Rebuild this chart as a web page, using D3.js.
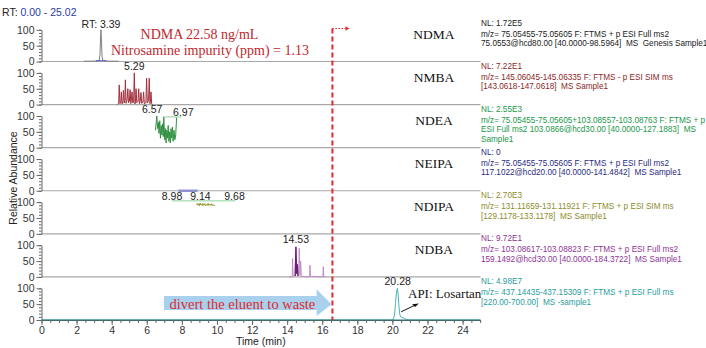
<!DOCTYPE html>
<html>
<head>
<meta charset="utf-8">
<script src="https://cdn.jsdelivr.net/npm/d3@7/dist/d3.min.js"></script>
<style>
  body { margin: 0; background: #fff; }
  svg { display: block; }
  text { white-space: pre; }
  .tick text { font-family: "Liberation Sans", Arial, sans-serif; }
</style>
</head>
<body>
<div id="chart"></div>
<script>
// chromatograms, one panel per nitrosamine + API
var compounds = ["NDMA", "NMBA", "NDEA", "NEIPA", "NDIPA", "NDBA", "API"];
var compoundNames = ["NDMA", "NMBA", "NDEA", "NEIPA", "NDIPA", "NDBA", ""];

var nlLines = ["NL: 1.72E5", "NL: 7.22E1", "NL: 2.55E3", "NL: 0", "NL: 2.70E3", "NL: 9.72E1", "NL: 4.98E7"];
var scanLines = [
    ["m/z= 75.05455-75.05605 F: FTMS + p ESI Full ms2", "75.0553@hcd80.00 [40.0000-98.5964]  MS  Genesis Sample1"],
    ["m/z= 145.06045-145.06335 F: FTMS - p ESI SIM ms", "[143.0618-147.0618]  MS Sample1"],
    ["m/z= 75.05455-75.05605+103.08557-103.08763 F: FTMS + p", "ESI Full ms2 103.0866@hcd30.00 [40.0000-127.1883]  MS", "Sample1"],
    ["m/z= 75.05455-75.05605 F: FTMS + p ESI Full ms2", "117.1022@hcd20.00 [40.0000-141.4842]  MS Sample1"],
    ["m/z= 131.11659-131.11921 F: FTMS + p ESI SIM ms", "[129.1178-133.1178]  MS Sample1"],
    ["m/z= 103.08617-103.08823 F: FTMS + p ESI Full ms2", "159.1492@hcd30.00 [40.0000-184.3722]  MS Sample1"],
    ["m/z= 437.14435-437.15309 F: FTMS + p ESI Full ms", "[220.00-700.00]  MS -sample1"]
];

// traces: [time (min), relative abundance (%)]
var ndmaTrace = [[2.40,1],[2.80,1],[3.10,1.5],[3.28,2],[3.33,20],[3.37,80],[3.39,100],[3.42,60],[3.45,15],[3.50,3],[3.70,1.5],[4.00,1],[4.40,1]];
var ndmaIntegration = [[3.10,2],[3.25,3],[3.40,2],[3.55,3],[3.70,2]];
var nmbaTrace = [[4.32,0],[4.40,5],[4.43,62],[4.47,3],[4.52,8],[4.55,40],[4.59,2],[4.64,10],[4.67,45],[4.71,5],[4.75,12],[4.78,78],[4.82,4],[4.88,15],[4.92,50],[4.96,6],[5.01,10],[5.05,47],[5.09,3],[5.13,20],[5.16,40],[5.20,5],[5.25,8],[5.29,100],[5.33,2],[5.36,14],[5.39,50],[5.43,6],[5.50,10],[5.54,50],[5.58,3],[5.63,12],[5.67,38],[5.71,4],[5.78,8],[5.82,40],[5.86,2],[5.95,6],[5.99,83],[6.03,5],[6.10,12],[6.14,83],[6.18,3],[6.21,10],[6.24,40],[6.28,2],[6.33,0]];
var ndeaTrace = [[6.50,55],[6.57,100],[6.62,60],[6.66,80],[6.70,45],[6.74,85],[6.78,30],[6.82,70],[6.86,40],[6.90,75],[6.94,35],[6.97,97],[7.02,25],[7.06,60],[7.10,15],[7.14,55],[7.18,30],[7.22,70],[7.26,20],[7.30,50],[7.34,15],[7.38,60],[7.42,30],[7.46,65],[7.50,20],[7.55,55],[7.60,25],[7.65,40],[7.70,95]];
var neipaTrace = [[7.80,0],[8.90,0]];
var ndipaTrace = [[8.84,92],[8.88,96],[8.92,90],[8.96,95],[9.00,88],[9.04,97],[9.08,91],[9.12,94],[9.16,89],[9.20,96],[9.25,90],[9.30,95],[9.35,88],[9.40,93],[9.45,90],[9.50,96],[9.55,89],[9.60,94],[9.65,90],[9.70,95],[9.75,88],[9.80,92],[9.85,89],[9.89,91]];
var ndbaTrace = [[14.10,0],[14.25,0],[14.29,2],[14.31,58],[14.34,2],[14.45,3],[14.50,95],[14.54,10],[14.58,40],[14.62,3],[14.66,8],[14.69,90],[14.73,5],[14.77,50],[14.81,2],[15.25,0],[15.28,3],[15.30,37],[15.33,2],[16.02,0],[16.04,3],[16.06,32],[16.09,2],[16.20,0]];
var ndbaMajor = [[14.46,3],[14.50,95],[14.54,10],[14.58,40],[14.62,3]];
var apiTrace = [[0,0],[19.95,0],[20.05,2],[20.12,15],[20.18,55],[20.24,92],[20.28,100],[20.32,85],[20.37,45],[20.42,18],[20.47,10],[20.55,8],[20.65,6],[20.75,3],[20.90,0],[25.02,0]];

// peak labels: panel, text, time where it is written, level
var peakLabels = [
    [0, "RT: 3.39", 3.39, 106],
    [1, "5.29", 5.29, 108],
    [2, "6.57", 6.31, 109],
    [2, "6.97", 8.08, 100],
    [4, "8.98", 7.44, 108],
    [4, "9.14", 9.06, 108],
    [4, "9.68", 11.00, 108],
    [5, "14.53", 14.50, 107],
    [6, "20.28", 20.30, 109]
];

var xTicks = d3.range(0, 25, 2);
var rtRange = [0.00, 25.02];
var divertTime = 16.58;

var colors = ["#7f7f7f", "#a3303c", "#2e9040", "#9090d0", "#9a9a30", "#c08cc4", "#4bb5b8"];
var textColors = ["#1a1a1a", "#8c1f28", "#22964a", "#2b2b7f", "#8c8c2c", "#8e3394", "#2a9d9d"];

var svg = d3.select("#chart").append("svg").attr("width", 706).attr("height", 348);
var sans = "'Liberation Sans', Arial, sans-serif";
var serif = "'Liberation Serif', 'Times New Roman', serif";

var x = d3.scaleLinear().domain(rtRange).range([41.5, 480.5]);
var baseline = d3.scaleLinear().domain([0, compounds.length - 1]).range([61.5, 320]);
var panelH = 31.7;

function yScale(i) {
    return d3.scaleLinear().domain([0, 100]).range([baseline(i), baseline(i) - panelH]);
}

var traces = [ndmaTrace, nmbaTrace, ndeaTrace, neipaTrace, ndipaTrace, ndbaTrace, apiTrace];

// header
svg.append("text")
    .attr("x", 2).attr("y", 16)
    .attr("font-family", sans).attr("font-size", 10.5)
    .attr("fill", "#222")
    .text("RT: ")
    .append("tspan").attr("fill", "#2b3aa8")
    .text(rtRange[0].toFixed(2) + " - " + rtRange[1].toFixed(2));

compounds.forEach(function(c, i) {
    var y = yScale(i);
    var g = svg.append("g");

    // panel baseline
    if (i < compounds.length - 1) {
        g.append("line")
            .attr("x1", x(rtRange[0])).attr("x2", x(rtRange[1]))
            .attr("y1", y(0)).attr("y2", y(0))
            .attr("stroke", "#a8a8a8").attr("stroke-width", 1.2);
    }

    // y axis, minor then major
    g.append("g")
        .attr("transform", "translate(" + x(0) + ",0)")
        .call(d3.axisLeft(y).tickValues(d3.range(0, 101, 10)).tickSize(2.5).tickSizeOuter(0).tickFormat(""))
        .call(function(a) { a.select(".domain").attr("stroke", "#666"); a.selectAll("line").attr("stroke", "#666"); });
    g.append("g")
        .attr("transform", "translate(" + x(0) + ",0)")
        .call(d3.axisLeft(y).tickValues([0, 50, 100]).tickSize(5).tickSizeOuter(0).tickPadding(2))
        .call(function(a) {
            a.select(".domain").remove();
            a.selectAll("line").attr("stroke", "#666");
            a.selectAll("text").attr("font-size", 10.5).attr("fill", "#333");
        });

    var line = d3.line()
        .x(function(d) { return x(d[0]); })
        .y(function(d) { return y(d[1]); });

    g.append("path")
        .datum(traces[i])
        .attr("fill", "none")
        .attr("stroke", colors[i])
        .attr("stroke-width", i == 3 ? 2.5 : 1)
        .attr("stroke-linejoin", "round")
        .attr("d", line);

    if (i == 0) {
        g.append("path").datum(ndmaIntegration)
            .attr("fill", "none").attr("stroke", "#4a5cc8").attr("stroke-width", 1)
            .attr("d", line);
    }
    if (i == 5) {
        g.append("path").datum(ndbaMajor)
            .attr("fill", "none").attr("stroke", "#6a2077").attr("stroke-width", 1.3)
            .attr("d", line);
    }

    // compound name
    g.append("text")
        .attr("x", 434).attr("y", baseline(i) - 23)
        .attr("text-anchor", "middle")
        .attr("font-family", serif).attr("font-size", 13.5)
        .attr("fill", "#111")
        .text(compoundNames[i]);

    // scan info on the right
    var top = baseline(i) - 43.08;
    var info = g.append("text")
        .attr("font-family", sans).attr("font-size", 8.2)
        .attr("fill", textColors[i]);
    info.append("tspan").attr("x", 481).attr("y", top + 7.5).text(nlLines[i]);
    scanLines[i].forEach(function(s, k) {
        info.append("tspan").attr("x", 481).attr("y", top + 18.5 + k * 9.3).text(s);
    });
});

// connectors for offset labels
var ndeaY = yScale(2), ndipaY = yScale(4);
svg.append("path")
    .attr("d", d3.line()([[x(6.97), ndeaY(97)], [x(7.98), ndeaY(97)]]))
    .attr("stroke", "#8fd19a").attr("fill", "none");
svg.append("path")
    .attr("d", d3.line()([[x(7.44), ndipaY(104)], [x(11.05), ndipaY(104)]]))
    .attr("stroke", "#8fd19a").attr("fill", "none");

peakLabels.forEach(function(p) {
    var y = yScale(p[0]);
    svg.append("text")
        .attr("x", x(p[2])).attr("y", y(p[3]))
        .attr("text-anchor", "middle")
        .attr("font-family", sans).attr("font-size", 10.5)
        .attr("fill", "#222")
        .text(p[1]);
});

// x axis
var bottom = baseline(compounds.length - 1);
svg.append("g")
    .attr("transform", "translate(0," + bottom + ")")
    .call(d3.axisBottom(x).tickValues(d3.range(0, 25.01, 0.5)).tickSize(3).tickSizeOuter(0).tickFormat(""))
    .call(function(a) { a.select(".domain").attr("stroke", "#555"); a.selectAll("line").attr("stroke", "#666"); });
svg.append("g")
    .attr("transform", "translate(0," + bottom + ")")
    .call(d3.axisBottom(x).tickValues(xTicks).tickSize(5).tickSizeOuter(0).tickPadding(2))
    .call(function(a) {
        a.select(".domain").remove();
        a.selectAll("line").attr("stroke", "#666");
        a.selectAll("text").attr("font-size", 10.5).attr("fill", "#333");
    });
// API baseline trace over the axis
svg.append("line")
    .attr("x1", x(rtRange[0])).attr("x2", x(rtRange[1]))
    .attr("y1", bottom).attr("y2", bottom)
    .attr("stroke", "#2f7f7a").attr("stroke-width", 1.2);

svg.append("text")
    .attr("x", x(12.5)).attr("y", 345)
    .attr("text-anchor", "middle")
    .attr("font-family", sans).attr("font-size", 10.5)
    .attr("fill", "#222")
    .text("Time (min)");

svg.append("text")
    .attr("transform", "translate(17,178) rotate(-90)")
    .attr("text-anchor", "middle")
    .attr("font-family", sans).attr("font-size", 10.5)
    .attr("fill", "#222")
    .text("Relative Abundance");

// divert valve marker
var dx = x(divertTime);
svg.append("line")
    .attr("x1", dx).attr("x2", dx)
    .attr("y1", 28.5).attr("y2", bottom)
    .attr("stroke", "#e8262b").attr("stroke-width", 2)
    .attr("stroke-dasharray", "5,3");
svg.append("line")
    .attr("x1", dx).attr("x2", dx + 13)
    .attr("y1", 28.5).attr("y2", 28.5)
    .attr("stroke", "#e8262b").attr("stroke-width", 1.2)
    .attr("stroke-dasharray", "1.5,1.5");
svg.append("path")
    .attr("d", d3.line()([[dx + 13, 26.3], [dx + 17, 28.5], [dx + 13, 30.7]]))
    .attr("fill", "#e8262b");

// blue arrow
var ay = yScale(6);
var ax0 = x(6.98), ax1 = x(15.68), ax2 = x(divertTime - 0.05);
svg.append("path")
    .attr("d", d3.line()([
        [ax0, ay(75.6)], [ax1, ay(75.6)], [ax1, ay(96.7)], [ax2, ay(50)],
        [ax1, ay(12.5)], [ax1, ay(31.5)], [ax0, ay(31.5)]
    ]) + "Z")
    .attr("fill", "#a9d1ee");
svg.append("text")
    .attr("x", x(11.45)).attr("y", ay(50) + 5)
    .attr("text-anchor", "middle")
    .attr("font-family", serif).attr("font-size", 14.5)
    .attr("fill", "#dd2a2f")
    .text("divert the eluent to waste");

// API annotation
svg.append("text")
    .attr("x", 408).attr("y", 298)
    .attr("font-family", serif).attr("font-size", 13)
    .attr("fill", "#111")
    .text("API: Losartan");
svg.append("line")
    .attr("x1", x(20.5)).attr("y1", ay(26))
    .attr("x2", x(21.3)).attr("y2", ay(47))
    .attr("stroke", "#111").attr("stroke-width", 1);
svg.append("path")
    .attr("d", d3.line()([[x(21.5), ay(52)], [x(21.12), ay(49.5)], [x(21.3), ay(41)]]) + "Z")
    .attr("fill", "#111");

// NDMA result
svg.append("text")
    .attr("x", 199.5).attr("y", 39)
    .attr("text-anchor", "middle")
    .attr("font-family", serif).attr("font-size", 14)
    .attr("fill", "#c1272d")
    .text("NDMA 22.58 ng/mL");
svg.append("text")
    .attr("x", 210).attr("y", 54.5)
    .attr("text-anchor", "middle")
    .attr("font-family", serif).attr("font-size", 14)
    .attr("fill", "#c1272d")
    .text("Nitrosamine impurity (ppm) = 1.13");
</script>
</body>
</html>
